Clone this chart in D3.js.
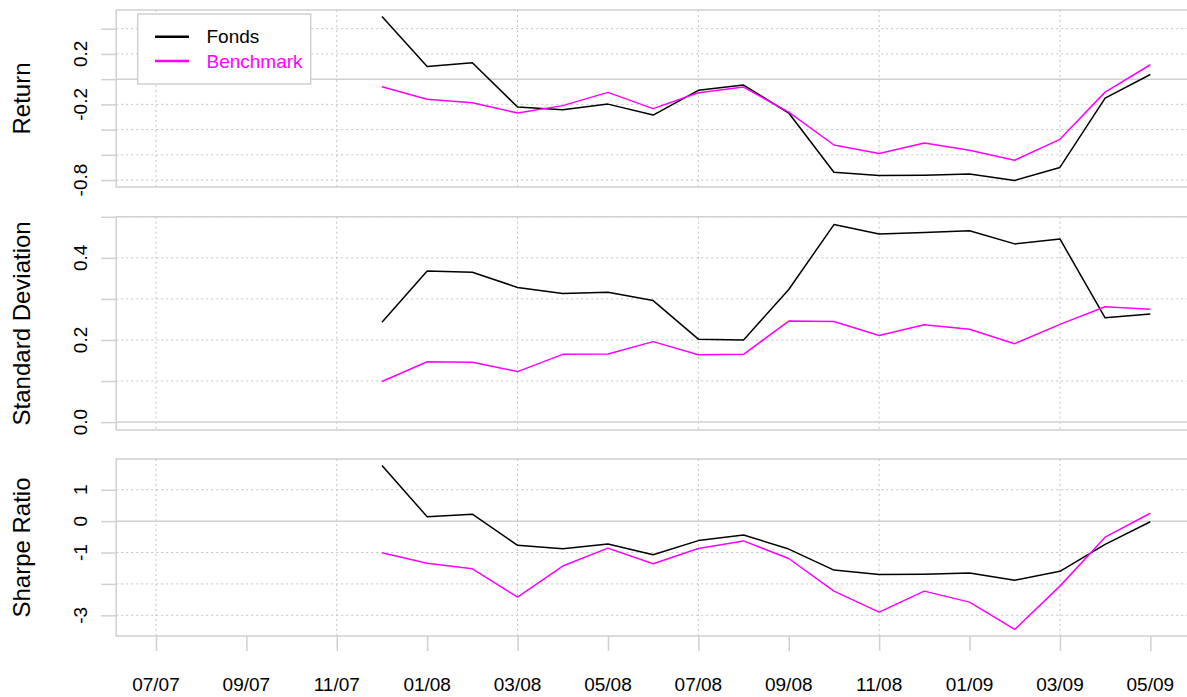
<!DOCTYPE html>
<html>
<head>
<meta charset="utf-8">
<script src="https://cdn.jsdelivr.net/npm/d3@7"></script>
<style>
  html, body { margin: 0; padding: 0; background: #fff; }
  svg { display: block; font-family: "Liberation Sans", Arial, Helvetica, sans-serif; }
</style>
</head>
<body>
<svg id="chart" width="1187" height="697"></svg>
<script>
// ---- Data ----
const axisMonths = ["07/07","08/07","09/07","10/07","11/07","12/07","01/08","02/08","03/08","04/08","05/08","06/08",
                    "07/08","08/08","09/08","10/08","11/08","12/08","01/09","02/09","03/09","04/09","05/09"];
const xTickLabels = ["07/07","09/07","11/07","01/08","03/08","05/08","07/08","09/08","11/08","01/09","03/09","05/09"];
const xGridLabels = ["07/07","11/07","03/08","07/08","11/08","03/09"];
const dates = ["12/07","01/08","02/08","03/08","04/08","05/08","06/08","07/08","08/08","09/08",
               "10/08","11/08","12/08","01/09","02/09","03/09","04/09","05/09"];
const seriesNames = ["Fonds", "Benchmark"];

const fondsReturn     = [0.496, 0.100, 0.130, -0.221, -0.242, -0.198, -0.285, -0.089, -0.047, -0.269,
                         -0.738, -0.764, -0.761, -0.751, -0.803, -0.700, -0.150, 0.037];
const benchmarkReturn = [-0.060, -0.160, -0.187, -0.269, -0.210, -0.105, -0.234, -0.108, -0.063, -0.261,
                         -0.522, -0.590, -0.506, -0.564, -0.643, -0.477, -0.103, 0.114];
const fondsStdDev     = [0.243, 0.368, 0.365, 0.328, 0.313, 0.316, 0.296, 0.202, 0.200, 0.323,
                         0.481, 0.458, 0.462, 0.466, 0.434, 0.446, 0.254, 0.263];
const benchmarkStdDev = [0.099, 0.147, 0.146, 0.123, 0.165, 0.166, 0.196, 0.164, 0.165, 0.246,
                         0.245, 0.211, 0.237, 0.226, 0.191, 0.238, 0.281, 0.275];
const fondsSharpe     = [1.77, 0.14, 0.22, -0.77, -0.88, -0.73, -1.07, -0.62, -0.44, -0.89,
                         -1.56, -1.70, -1.69, -1.65, -1.88, -1.60, -0.74, -0.02];
const benchmarkSharpe = [-1.01, -1.34, -1.52, -2.42, -1.43, -0.86, -1.36, -0.87, -0.63, -1.19,
                         -2.23, -2.90, -2.23, -2.58, -3.45, -2.07, -0.51, 0.25];

const returnTicks = [-0.8, -0.6, -0.4, -0.2, 0, 0.2, 0.4];
const returnLabels = [-0.8, -0.2, 0.2];
const sdTicks = [0, 0.1, 0.2, 0.3, 0.4, 0.5];
const sdLabels = [0, 0.2, 0.4];
const sharpeTicks = [-3, -2, -1, 0, 1];
const sharpeLabels = [-3, -1, 0, 1];

// ---- Layout ----
const colors = ["#000000", "#ff00ff"];
const boxColor = "#d0d0d0";
const gridColor = "#c4c4c4";
const fontSize = 19;

const svg = d3.select("#chart");
const n = axisMonths.length - 1;
const x = d3.scaleLinear()
  .domain([-0.04 * n, n + 0.04 * n])
  .range([116.2, 1190.1]);
const xi = lbl => x(axisMonths.indexOf(lbl));

const panels = [
  { title: "Return", top: 10, bottom: 187, series: [fondsReturn, benchmarkReturn],
    ticks: returnTicks, labels: returnLabels, yMinZero: false, fmt: d3.format(".1f") },
  { title: "Standard Deviation", top: 216.7, bottom: 430, series: [fondsStdDev, benchmarkStdDev],
    ticks: sdTicks, labels: sdLabels, yMinZero: true, fmt: d3.format(".1f") },
  { title: "Sharpe Ratio", top: 459, bottom: 636, series: [fondsSharpe, benchmarkSharpe],
    ticks: sharpeTicks, labels: sharpeLabels, yMinZero: false, fmt: d3.format("d") }
];

const xLeft = x.range()[0], xRight = x.range()[1];

panels.forEach((p, pi) => {
  const all = p.series.flat();
  let lo = d3.min(all), hi = d3.max(all);
  if (p.yMinZero) lo = 0;
  const pad = 0.04 * (hi - lo);
  const y = d3.scaleLinear().domain([lo - pad, hi + pad]).range([p.bottom, p.top]);
  const g = svg.append("g");

  // vertical dotted grid
  g.selectAll("line.vgrid").data(xGridLabels).join("line")
    .attr("x1", d => xi(d)).attr("x2", d => xi(d))
    .attr("y1", p.top).attr("y2", p.bottom)
    .attr("stroke", gridColor).attr("stroke-width", 1).attr("stroke-dasharray", "2,3");

  // horizontal dotted grid
  g.selectAll("line.hgrid").data(p.ticks.filter(t => t !== 0)).join("line")
    .attr("x1", xLeft).attr("x2", xRight)
    .attr("y1", d => y(d)).attr("y2", d => y(d))
    .attr("stroke", gridColor).attr("stroke-width", 1).attr("stroke-dasharray", "2,3");

  // zero line
  g.append("line")
    .attr("x1", xLeft).attr("x2", xRight)
    .attr("y1", y(0)).attr("y2", y(0))
    .attr("stroke", boxColor).attr("stroke-width", 1.5);

  // box
  g.append("rect")
    .attr("x", xLeft).attr("y", p.top)
    .attr("width", xRight - xLeft).attr("height", p.bottom - p.top)
    .attr("fill", "none").attr("stroke", boxColor).attr("stroke-width", 1.5);

  // y axis via d3
  const yAxis = d3.axisLeft(y).tickValues(p.ticks).tickSize(15).tickFormat("");
  const ag = g.append("g").attr("transform", `translate(${xLeft},0)`).call(yAxis);
  ag.select(".domain").remove();
  ag.selectAll(".tick line").attr("stroke", boxColor).attr("stroke-width", 1.5);

  // y labels (rotated)
  g.selectAll("text.ylab").data(p.labels).join("text")
    .attr("transform", d => `translate(87,${y(d)}) rotate(-90)`)
    .attr("text-anchor", "middle")
    .attr("font-size", fontSize)
    .attr("fill", "#000")
    .text(d => p.fmt(d).replace("−", "-"));

  // y title
  g.append("text")
    .attr("transform", `translate(30,${(p.top + p.bottom) / 2}) rotate(-90)`)
    .attr("text-anchor", "middle")
    .attr("font-size", 24)
    .attr("fill", "#000")
    .text(p.title);

  // series lines
  const line = d3.line().x((d, i) => xi(dates[i])).y(d => y(d));
  p.series.forEach((s, si) => {
    g.append("path").datum(s)
      .attr("d", line)
      .attr("fill", "none")
      .attr("stroke", colors[si])
      .attr("stroke-width", 1.5)
      .attr("stroke-linejoin", "round");
  });

  // legend in first panel
  if (pi === 0) {
    const lg = svg.append("g");
    lg.append("rect").attr("x", 137.7).attr("y", 14).attr("width", 173).attr("height", 70)
      .attr("fill", "#fff").attr("stroke", boxColor).attr("stroke-width", 1.5);
    seriesNames.forEach((name, i) => {
      const yy = 36.7 + i * 24.3;
      lg.append("line").attr("x1", 155).attr("x2", 189).attr("y1", yy).attr("y2", yy)
        .attr("stroke", colors[i]).attr("stroke-width", 2.5);
      lg.append("text").attr("x", 206.5).attr("y", yy + 6.7)
        .attr("font-size", fontSize).attr("fill", colors[i]).text(name);
    });
    // keep legend above the lines: move later
    lg.raise();
  }

  // x axis on last panel
  if (pi === panels.length - 1) {
    const xAxis = d3.axisBottom(x)
      .tickValues(xTickLabels.map(l => axisMonths.indexOf(l)))
      .tickSize(15).tickFormat("");
    const xg = svg.append("g").attr("transform", `translate(0,${p.bottom})`).call(xAxis);
    xg.select(".domain").remove();
    xg.selectAll(".tick line").attr("stroke", boxColor).attr("stroke-width", 1.5);
    svg.selectAll("text.xlab").data(xTickLabels).join("text")
      .attr("class", "xlab")
      .attr("x", d => xi(d)).attr("y", 690.5)
      .attr("text-anchor", "middle")
      .attr("font-size", fontSize)
      .attr("fill", "#000")
      .text(d => d);
  }
});
</script>
</body>
</html>
